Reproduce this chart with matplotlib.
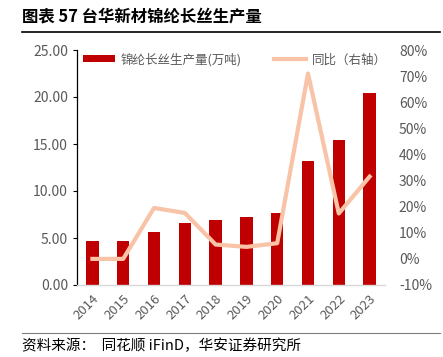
import matplotlib
matplotlib.use("Agg")
import matplotlib.pyplot as plt
from matplotlib.lines import Line2D
from matplotlib.patches import Patch

plt.rcParams['font.family'] = ['Noto Sans CJK SC', 'DejaVu Sans']

years = ["2014", "2015", "2016", "2017", "2018", "2019", "2020", "2021", "2022", "2023"]
output = [4.68, 4.68, 5.6, 6.6, 6.9, 7.25, 7.7, 13.2, 15.4, 20.4]
yoy = [0.0, 0.0, 19.5, 17.6, 5.5, 4.6, 6.0, 71.0, 17.4, 31.5]

left_ticks = [0, 5, 10, 15, 20, 25]
right_ticks = [-10, 0, 10, 20, 30, 40, 50, 60, 70, 80]

bar_color = "#C00000"
line_color = "#F8C3A6"
tick_color = "#595959"

fig = plt.figure(figsize=(4.43, 3.57), dpi=100)
ax = fig.add_axes([77/443, 1-285/357, (385-77)/443, (285-50)/357])
x = list(range(len(years)))
ax.bar(x, output, width=0.4, color=bar_color, zorder=2)
ax.set_xlim(-0.5, len(years)-0.5)
ax.set_ylim(0, 25)
ax.set_yticks(left_ticks)
ax.set_yticklabels([f"{v:.2f}" for v in left_ticks])
ax.set_xticks(x)
ax.set_xticklabels(years, rotation=45, ha="right", rotation_mode="anchor")
ax.tick_params(axis='y', colors=tick_color, labelsize=10, length=3, width=0.8, direction='out')
ax.tick_params(axis='y', color='black')
ax.tick_params(axis='x', colors=tick_color, labelsize=9.5, length=0, pad=5)
for s in ["top", "right"]:
    ax.spines[s].set_visible(False)
ax.spines["left"].set_color("black")
ax.spines["left"].set_linewidth(0.9)
ax.spines["bottom"].set_color("#D9D9D9")
ax.spines["bottom"].set_linewidth(1.0)

ax2 = ax.twinx()
ax2.plot(x, yoy, color=line_color, linewidth=3, zorder=3)
ax2.set_ylim(-10, 80)
ax2.set_yticks(right_ticks)
ax2.set_yticklabels([f"{v}%" for v in right_ticks])
ax2.tick_params(axis='y', colors=tick_color, labelsize=10, length=0, pad=10)
for s in ["top", "right", "left", "bottom"]:
    ax2.spines[s].set_visible(False)

handles = [Patch(facecolor=bar_color, edgecolor='none'),
           Line2D([0], [0], color=line_color, linewidth=3)]
labels = ["锦纶长丝生产量(万吨)", "同比（右轴）"]
leg = ax.legend(handles, labels, loc="upper left", bbox_to_anchor=(-0.005, 1.02), ncol=2,
                frameon=False, fontsize=9, handlelength=2.6, handleheight=0.5,
                columnspacing=2.6, handletextpad=0.4, borderaxespad=0.2)
for t in leg.get_texts():
    t.set_color(tick_color)

fig.text(22/443, 1-16/357, "图表 57 台华新材锦纶长丝生产量", fontsize=11.8, fontweight="bold",
         va="center", ha="left", color="black")
fig.add_artist(Line2D([22/443, 440/443], [1-32/357, 1-32/357], color="black", linewidth=1.2))
fig.add_artist(Line2D([22/443, 440/443], [1-333/357, 1-333/357], color="#7F7F7F", linewidth=0.8))
fig.text(22/443, 1-346/357, "资料来源：  同花顺 iFinD，华安证券研究所", fontsize=10.5,
         va="center", ha="left", color="black")

fig.savefig("out.png", dpi=100)
